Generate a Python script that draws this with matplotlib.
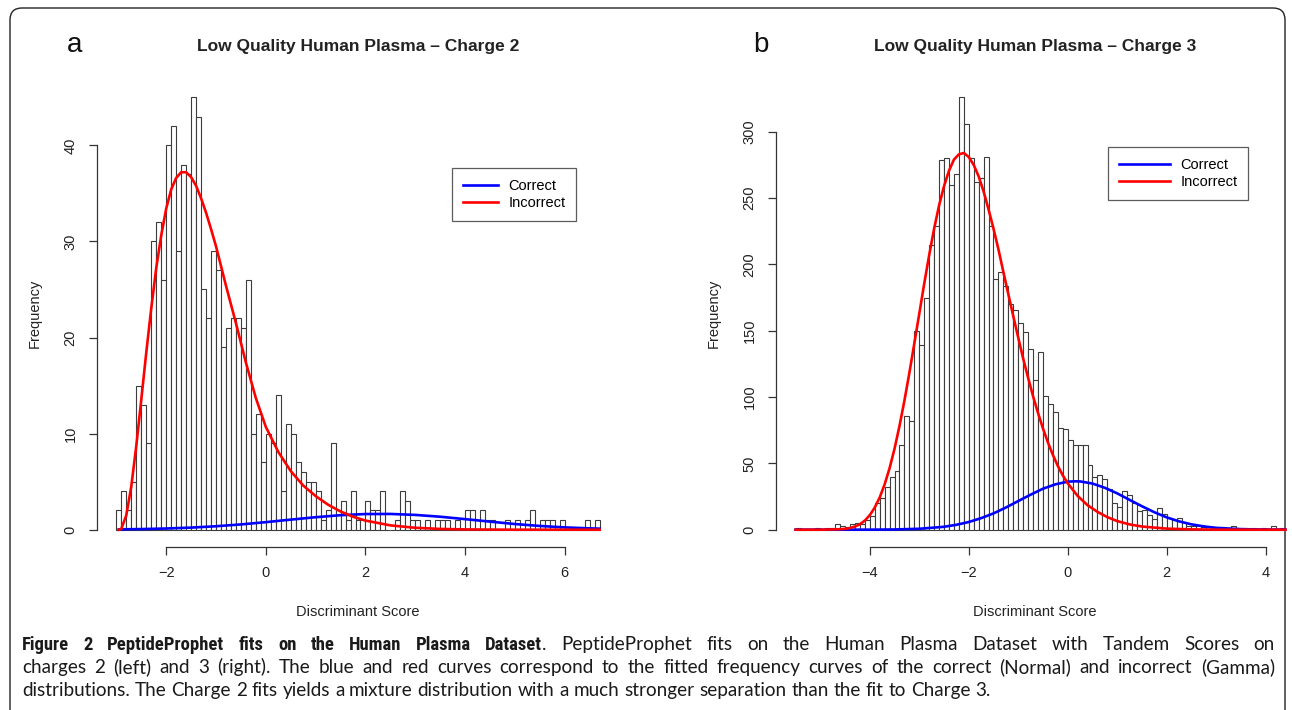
import matplotlib
matplotlib.use('Agg')
import matplotlib.pyplot as plt
from matplotlib.patches import FancyBboxPatch

# charge 2 histogram: counts in 0.1-wide bins starting at -3.0
c2_start = -3.0
c2_counts = [2, 4, 2, 5, 15, 13, 9, 30, 32, 26,
             40, 42, 29, 38, 37, 45, 43, 25, 22, 29,
             27, 19, 21, 22, 22, 21, 26, 10, 12, 7,
             10, 9, 14, 4, 11, 10, 7, 6, 5, 5,
             4, 1, 2, 9, 2, 3, 1, 4, 1, 1,
             3, 2, 2, 4, 0, 0, 1, 4, 3, 1,
             1, 0, 1, 0, 1, 1, 1, 0, 1, 0,
             2, 2, 0, 2, 1, 1, 0, 0, 1, 0,
             1, 0, 1, 2, 0, 1, 1, 1, 0, 1,
             0, 0, 0, 0, 1, 0, 1]

# charge 3 histogram: counts in 0.1-wide bins starting at -5.5
c3_start = -5.5
c3_counts = [1, 0, 0, 0, 1, 0, 1, 1, 4, 3,
             2, 4, 5, 4, 7, 10, 20, 24, 32, 40,
             44, 64, 86, 82, 150, 139, 175, 215, 229, 279,
             280, 260, 268, 326, 306, 280, 262, 265, 281, 229,
             189, 194, 184, 170, 166, 156, 149, 136, 113, 134,
             101, 95, 89, 77, 76, 68, 64, 64, 64, 49,
             40, 41, 38, 31, 20, 17, 29, 26, 20, 14,
             15, 11, 8, 16, 12, 9, 7, 9, 6, 3,
             3, 3, 2, 2, 2, 1, 2, 1, 3, 1,
             1, 0, 1, 0, 1, 0, 3, 0, 1]
bin_width = 0.1

# fitted frequency curves
c2_red_x = [-2.95, -2.9, -2.8, -2.7, -2.6, -2.5, -2.4, -2.3, -2.2, -2.1,
            -2.0, -1.9, -1.8, -1.7, -1.6, -1.5, -1.4, -1.3, -1.2, -1.1,
            -1.0, -0.8, -0.6, -0.4, -0.2, 0.0, 0.25, 0.5, 0.75, 1.0,
            1.25, 1.5, 1.75, 2.0, 2.5, 3.0, 3.5, 4.0, 5.0, 6.7]
c2_red_y = [0.0, 0.1, 1.5, 4.5, 8.7, 13.5, 18.4, 23.0, 27.2, 30.6,
            33.4, 35.4, 36.6, 37.2, 37.2, 36.7, 35.8, 34.5, 33.0, 31.3,
            29.5, 25.4, 21.5, 17.4, 13.7, 10.7, 8.1, 6.1, 4.6, 3.5,
            2.6, 1.9, 1.35, 0.95, 0.45, 0.2, 0.08, 0.03, 0.0, 0.0]
c2_blue_x = [-2.95, -2.5, -2.0, -1.5, -1.0, -0.5, 0.0, 0.5, 1.0, 1.5,
             2.0, 2.5, 3.0, 3.5, 4.0, 4.5, 5.0, 5.5, 6.0, 6.5, 6.7]
c2_blue_y = [0.035, 0.066, 0.124, 0.218, 0.359, 0.55, 0.786, 1.048, 1.30, 1.51,
             1.63, 1.64, 1.54, 1.35, 1.10, 0.84, 0.59, 0.39, 0.24, 0.14, 0.11]

c3_red_x = [-5.5, -5.0, -4.6, -4.5, -4.4, -4.3, -4.2, -4.1, -4.0, -3.9,
            -3.8, -3.7, -3.6, -3.5, -3.4, -3.3, -3.2, -3.1, -3.0, -2.9,
            -2.8, -2.7, -2.6, -2.5, -2.4, -2.3, -2.2, -2.1, -2.0, -1.9,
            -1.8, -1.7, -1.6, -1.5, -1.4, -1.3, -1.2, -1.1, -1.0, -0.9,
            -0.8, -0.7, -0.6, -0.5, -0.4, -0.3, -0.2, -0.1, 0.0, 0.2,
            0.4, 0.6, 0.8, 1.0, 1.25, 1.5, 2.0, 2.5, 3.0, 4.4]
c3_red_y = [0.0, 0.0, 0.35, 0.63, 1.26, 2.4, 4.1, 6.9, 11.0, 16.7,
            24.3, 34.2, 46.4, 61.1, 78.2, 97.4, 118.3, 140.5, 162.9, 185.5,
            207, 227, 244.5, 259, 270.6, 279, 283, 284, 281, 275,
            266.4, 255, 241.5, 227, 211.3, 194.2, 177.5, 161, 144.8, 129,
            114.5, 100.6, 88, 76.3, 65.8, 56.4, 48.1, 41, 35, 25.5,
            18.5, 13.5, 9.5, 6.5, 4.0, 2.4, 0.8, 0.25, 0.05, 0.0]
c3_blue_x = [-5.5, -4.0, -3.5, -3.0, -2.5, -2.25, -2.0, -1.75, -1.5, -1.25,
             -1.0, -0.75, -0.5, -0.25, 0.0, 0.15, 0.25, 0.5, 0.75, 1.0,
             1.25, 1.5, 1.75, 2.0, 2.25, 2.5, 2.75, 3.0, 3.5, 4.0, 4.4]
c3_blue_y = [0.0, 0.04, 0.18, 0.7, 2.2, 3.7, 5.8, 8.7, 12.3, 16.7,
             21.6, 26.4, 30.9, 34.2, 36.2, 36.5, 36.4, 34.8, 31.6, 27.4,
             22.5, 17.7, 13.2, 9.3, 6.3, 4.05, 2.5, 1.4, 0.42, 0.1, 0.03]

W, H = 1292, 710
font = 'Liberation Sans'
plt.rcParams['font.family'] = font

fig = plt.figure(figsize=(W / 100, H / 100), dpi=100)

# page frame drawn in pixel coordinates
bg = fig.add_axes([0, 0, 1, 1], zorder=-1)
bg.set_xlim(0, W)
bg.set_ylim(H, 0)
bg.axis('off')
bg.add_patch(FancyBboxPatch((10, 8), 1275, 730, boxstyle='round,pad=0,rounding_size=12',
                            fc='white', ec='#222222', lw=1.0))


def px_axes(left, top, right, bottom):
    ax = fig.add_axes([left / W, 1 - bottom / H, (right - left) / W, (bottom - top) / H])
    ax.patch.set_visible(False)
    return ax


def draw_panel(ax, start, counts, red, blue, yticks, xticks, title, legend_box, handle_len):
    edges = [start + i * bin_width for i in range(len(counts))]
    ax.bar(edges, counts, width=bin_width, align='edge', color='white',
           edgecolor='#3c3c3c', linewidth=0.8)
    ax.plot(blue[0], blue[1], color='#0000ff', lw=1.9, label='Correct')
    ax.plot(red[0], red[1], color='#ff0000', lw=1.9, label='Incorrect')

    lo, hi = start, start + len(counts) * bin_width
    pad = (hi - lo) * 0.04
    top = max(counts)
    ax.set_xlim(lo - pad, hi + pad)
    ax.set_ylim(-0.04 * top, 1.04 * top)

    for s in ('top', 'right'):
        ax.spines[s].set_visible(False)
    ax.spines['left'].set_bounds(yticks[0], yticks[-1])
    ax.spines['bottom'].set_bounds(xticks[0], xticks[-1])
    for s in ('left', 'bottom'):
        ax.spines[s].set_linewidth(0.9)
        ax.spines[s].set_color('#333333')
    ax.set_xticks(xticks)
    ax.set_xticklabels([str(t).replace('-', '\u2212') for t in xticks])
    ax.set_yticks(yticks)
    ax.set_yticklabels([str(t) for t in yticks], rotation=90, va='center')
    ax.tick_params(length=6, width=0.9, color='#333333', labelsize=10.5,
                   labelcolor='#222222')
    ax.tick_params(axis='x', pad=8)
    ax.tick_params(axis='y', pad=8)

    ax.set_title(title, fontsize=12.5, fontweight='bold', pad=21, color='#222222')
    ax.set_xlabel('Discriminant Score', fontsize=10.5, labelpad=18, color='#222222')
    ax.set_ylabel('Frequency', fontsize=10.5, labelpad=16, color='#222222')

    leg = ax.legend(loc='upper left', bbox_to_anchor=legend_box, bbox_transform=fig.transFigure,
                    borderaxespad=0, frameon=True, fancybox=False, edgecolor='#333333',
                    fontsize=10.5, handlelength=handle_len, handletextpad=0.7, borderpad=0.75,
                    labelspacing=0.2)
    leg.get_frame().set_linewidth(0.9)


ax1 = px_axes(97, 80, 619, 547)
draw_panel(ax1, c2_start, c2_counts, (c2_red_x, c2_red_y), (c2_blue_x, c2_blue_y),
           [0, 10, 20, 30, 40], [-2, 0, 2, 4, 6],
           'Low Quality Human Plasma \u2013 Charge 2', (452 / W, 1 - 168 / H), 2.4)

ax2 = px_axes(776, 80, 1305, 547)
draw_panel(ax2, c3_start, c3_counts, (c3_red_x, c3_red_y), (c3_blue_x, c3_blue_y),
           [0, 50, 100, 150, 200, 250, 300], [-4, -2, 0, 2, 4],
           'Low Quality Human Plasma \u2013 Charge 3', (1108 / W, 1 - 147 / H), 3.5)
ax2.title.set_position((0.489, 1.0))
ax2.xaxis.label.set_position((0.489, 0))

bg.text(75, 45, 'a', fontsize=20, ha='center', va='center', color='#111111')
bg.text(761, 45, 'b', fontsize=20, ha='center', va='center', color='#111111')

# caption, justified across the frame
cap_font = {'normal': (['Lato', 'DejaVu Sans'], 13.6),
            'bold': (['Roboto Condensed', 'Lato', 'DejaVu Sans'], 13.4)}
cap_left, cap_right = 22, 1275


def words_of(text, weight):
    return [[(w, weight)] for w in text.split()]


line1 = (words_of('Figure 2 PeptideProphet fits on the Human Plasma', 'bold')
         + [[('Dataset', 'bold'), ('.', 'normal')]]
         + words_of('PeptideProphet fits on the Human Plasma Dataset with Tandem Scores on', 'normal'))
line2 = words_of('charges 2 (left) and 3 (right). The blue and red curves correspond to the fitted '
                 'frequency curves of the correct (Normal) and incorrect (Gamma)', 'normal')
line3 = words_of('distributions. The Charge 2 fits yields a mixture distribution with a much '
                 'stronger separation than the fit to Charge 3.', 'normal')

fig.canvas.draw()
renderer = fig.canvas.get_renderer()


def cap_text(y, s, wt):
    fam, size = cap_font[wt]
    return bg.text(0, y, s, fontsize=size, fontweight=wt, family=fam,
                   va='baseline', ha='left', color='#1a1a1a')


def draw_caption_line(y, words, justify):
    placed = []
    total = 0
    for word in words:
        arts = []
        for s, wt in word:
            t = cap_text(y, s, wt)
            arts.append((t, t.get_window_extent(renderer).width))
        placed.append(arts)
        total += sum(w for _, w in arts)
    if justify:
        gap = (cap_right - cap_left - total) / (len(words) - 1)
    else:
        a, b = cap_text(0, 'n n', 'normal'), cap_text(0, 'nn', 'normal')
        gap = a.get_window_extent(renderer).width - b.get_window_extent(renderer).width
        a.remove()
        b.remove()
    x = cap_left
    for arts in placed:
        for t, w in arts:
            t.set_x(x)
            x += w
        x += gap


draw_caption_line(650, line1, True)
draw_caption_line(673, line2, True)
draw_caption_line(696, line3, False)

fig.savefig('out.png', dpi=100, facecolor='white')
